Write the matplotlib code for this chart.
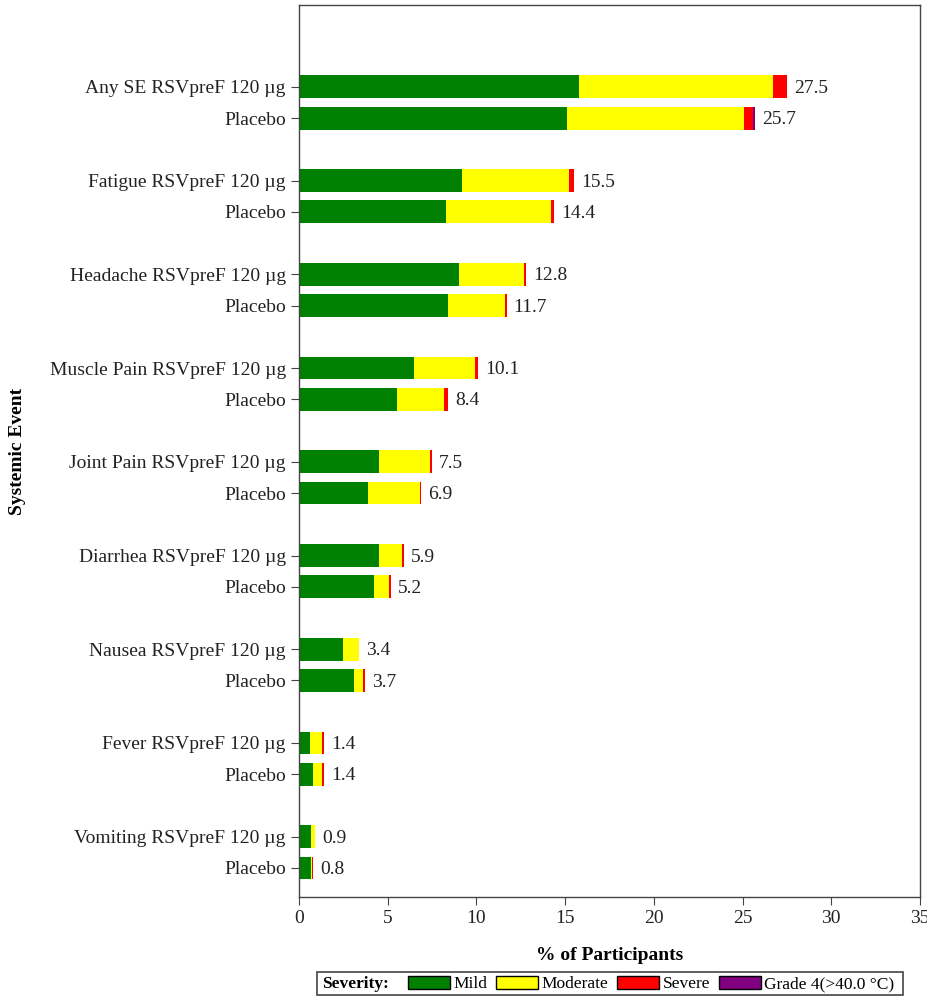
import matplotlib
matplotlib.use("Agg")
import matplotlib.pyplot as plt
from matplotlib.patches import Patch, Rectangle
import numpy as np

plt.rcParams['font.family'] = ['Liberation Serif', 'DejaVu Serif']

events = ["Any SE", "Fatigue", "Headache", "Muscle Pain", "Joint Pain",
          "Diarrhea", "Nausea", "Fever", "Vomiting"]
groups = ["RSVpreF 120 µg", "Placebo"]

# order: for each event, RSVpreF then Placebo
mild     = [15.8, 15.1, 9.2, 8.3, 9.0, 8.4, 6.5, 5.5, 4.5, 3.9, 4.5, 4.2, 2.5, 3.1, 0.6, 0.8, 0.7, 0.7]
moderate = [10.9, 10.0, 6.0, 5.9, 3.7, 3.2, 3.4, 2.7, 2.9, 2.9, 1.3, 0.9, 0.9, 0.5, 0.7, 0.5, 0.2, 0.05]
severe   = [0.8, 0.5, 0.3, 0.2, 0.1, 0.1, 0.2, 0.2, 0.1, 0.1, 0.1, 0.1, 0.0, 0.1, 0.1, 0.1, 0.0, 0.05]
grade4   = [0.0, 0.1, 0.0, 0.0, 0.0, 0.0, 0.0, 0.0, 0.0, 0.0, 0.0, 0.0, 0.0, 0.0, 0.0, 0.0, 0.0, 0.0]
totals   = [27.5, 25.7, 15.5, 14.4, 12.8, 11.7, 10.1, 8.4, 7.5, 6.9, 5.9, 5.2, 3.4, 3.7, 1.4, 1.4, 0.9, 0.8]

severity_names = ["Mild", "Moderate", "Severe", "Grade 4(>40.0 °C)"]
colors = ["#008000", "#FFFF00", "#FF0000", "#800080"]

labels = []
positions = []
for i, ev in enumerate(events):
    labels.append(f"{ev} {groups[0]}")
    labels.append(groups[1])
    positions.append(i * 3)
    positions.append(i * 3 + 1)
positions = np.array(positions, dtype=float)

W, H = 928, 996
fig = plt.figure(figsize=(W / 100, H / 100), dpi=100)
ax = fig.add_axes([299/W, 1 - 897/H, (920-299)/W, (897-5)/H])

left = np.zeros(len(positions))
for vals, c in zip([mild, moderate, severe, grade4], colors):
    v = np.array(vals)
    ax.barh(positions, v, left=left, height=0.73, color=c, edgecolor='none')
    left += v

for p, t, l in zip(positions, totals, left):
    ax.text(l + 0.4, p + 0.05, f"{t:.1f}", va='center', ha='left', fontsize=14, color='#222222')

ax.set_ylim(25.93, -2.62)
ax.set_xlim(0, 35)
ax.set_yticks(positions)
ax.set_yticklabels(labels, fontsize=14, color='#222222')
ax.set_xticks(np.arange(0, 36, 5))
ax.tick_params(axis='x', labelsize=14, length=6, colors='#444444', labelcolor='#222222')
ax.tick_params(axis='y', length=6, colors='#444444', labelcolor='#222222')
for s in ax.spines.values():
    s.set_color('#444444')
    s.set_linewidth(1.0)

ax.set_xlabel("% of Participants", fontsize=14, fontweight='bold', labelpad=14)
fig.text(18/W, 1 - 451/H, "Systemic Event", rotation=90, fontsize=14,
         fontweight='bold', va='center', ha='center')

# legend frame and title
fig.patches.append(Rectangle((317/W, 1 - 995/H), (903-317)/W, (995-972)/H,
                             transform=fig.transFigure, facecolor='white',
                             edgecolor='#444444', linewidth=1.2, zorder=0))
fig.text(322/W, 1 - 984/H, "Severity:", fontsize=12.5, fontweight='bold',
         va='center', ha='left')
handles = [Patch(facecolor=c, edgecolor='black', linewidth=1) for c in colors]
leg = fig.legend(handles, severity_names, loc='center left',
                 bbox_to_anchor=(408/W, 1 - 984/H), ncol=4, fontsize=12.5,
                 frameon=False, handlelength=2.42, handleheight=0.86,
                 handletextpad=0.2, columnspacing=0.5, borderpad=0,
                 borderaxespad=0)

fig.savefig("out.png", dpi=100)
